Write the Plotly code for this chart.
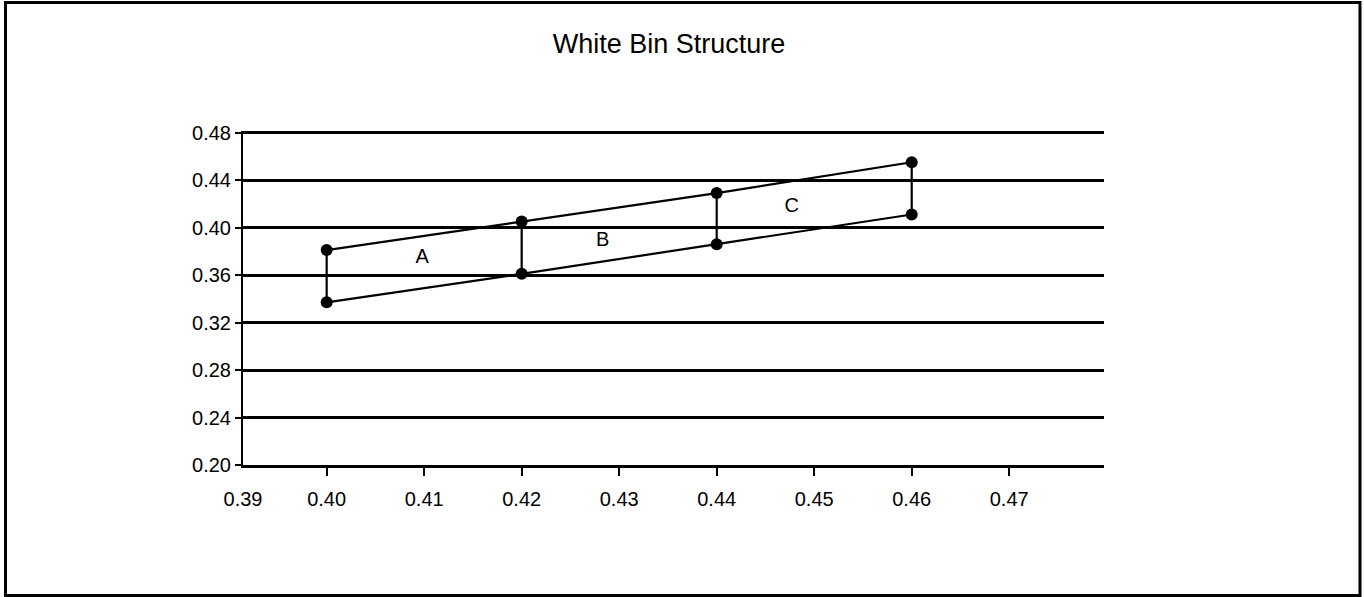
import plotly.graph_objects as go

# Data
bin_x = [0.40, 0.42, 0.44, 0.46]
upper_y = [0.381, 0.405, 0.429, 0.455]
lower_y = [0.337, 0.361, 0.386, 0.411]
bin_labels = ["A", "B", "C"]
label_x = [0.4098, 0.4283, 0.4477]
label_y = [0.3745, 0.3885, 0.4171]

y_ticks = [0.20, 0.24, 0.28, 0.32, 0.36, 0.40, 0.44, 0.48]
x_ticks = [0.40, 0.41, 0.42, 0.43, 0.44, 0.45, 0.46, 0.47]
x_min, x_max = 0.39142, 0.47972
y_min, y_max = 0.20, 0.4813
x_first_label = "0.39"

FONT = "Liberation Sans, Arial, sans-serif"
W, H = 1364, 597
L, R, T, B = 243, 1364 - 1104, 131, 597 - 465

fig = go.Figure()

# vertical connectors
vx, vy = [], []
for x, lo, up in zip(bin_x, lower_y, upper_y):
    vx += [x, x, None]
    vy += [lo, up, None]
fig.add_trace(go.Scatter(x=vx, y=vy, mode="lines",
                         line=dict(color="black", width=2.2), showlegend=False, hoverinfo="skip"))
fig.add_trace(go.Scatter(x=bin_x, y=upper_y, mode="lines+markers",
                         line=dict(color="black", width=2.2),
                         marker=dict(color="black", size=12), showlegend=False))
fig.add_trace(go.Scatter(x=bin_x, y=lower_y, mode="lines+markers",
                         line=dict(color="black", width=2.2),
                         marker=dict(color="black", size=12), showlegend=False))
fig.add_trace(go.Scatter(x=label_x, y=label_y, mode="text", text=bin_labels,
                         textfont=dict(family=FONT, size=20, color="black"),
                         textposition="middle center", showlegend=False, hoverinfo="skip"))
# dummy trace for the tick-mark axis
fig.add_trace(go.Scatter(x=[None], y=[None], xaxis="x2", showlegend=False, hoverinfo="skip"))

fig.update_layout(
    width=W, height=H,
    margin=dict(l=L, r=R, t=T, b=B, pad=0),
    paper_bgcolor="white", plot_bgcolor="white",
    font=dict(family=FONT, size=20, color="black"),
    title=dict(text="White Bin Structure", x=669 / W,
               xanchor="center", y=1 - 44 / H, yanchor="middle",
               font=dict(family=FONT, size=27, color="black")),
    xaxis=dict(range=[x_min, x_max], tickvals=[x_min] + x_ticks,
               ticktext=[x_first_label] + [f"{v:.2f}" for v in x_ticks],
               ticks="", showgrid=False, zeroline=False,
               showline=True, linecolor="black", linewidth=2.5,
               ticklabelstandoff=14,
               tickfont=dict(family=FONT, size=20, color="black")),
    xaxis2=dict(overlaying="x", matches="x", side="bottom",
                tickvals=x_ticks, ticks="outside", ticklen=10, tickwidth=1.5,
                tickcolor="black", showticklabels=False, showgrid=False,
                zeroline=False, showline=False),
    yaxis=dict(range=[y_min, y_max], tickvals=y_ticks,
               ticktext=[f"{v:.2f}" for v in y_ticks],
               ticks="outside", ticklen=6, tickwidth=2, tickcolor="black",
               showgrid=True, gridcolor="black", gridwidth=2.5,
               zeroline=False, showline=True, linecolor="black", linewidth=2,
               tickfont=dict(family=FONT, size=20, color="black")),
    shapes=[dict(type="rect", xref="paper", yref="paper",
                 x0=(5.5 - L) / (W - L - R), x1=(1360 - L) / (W - L - R),
                 y0=(H - B - 595.5) / (H - T - B), y1=(H - B - 2.5) / (H - T - B),
                 line=dict(color="black", width=3), layer="above")],
)

fig.write_html("out.html")
